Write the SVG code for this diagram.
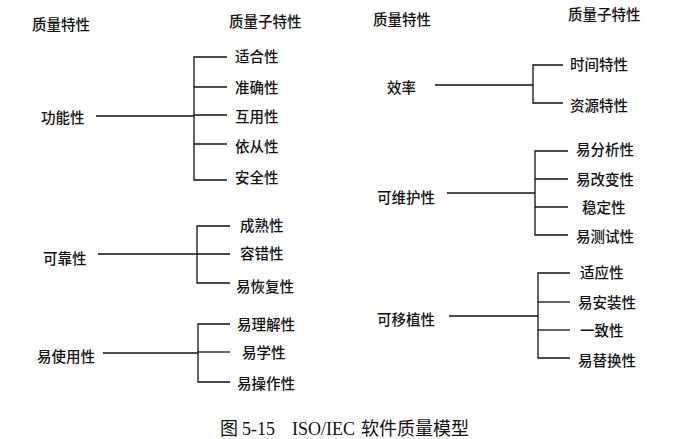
<svg xmlns="http://www.w3.org/2000/svg" width="696" height="439" viewBox="0 0 696 439">
<style>
text{font-family:"Noto Sans CJK SC","Liberation Sans",sans-serif;font-size:14.5px;font-weight:500;fill:#111}
.cap{font-family:"Liberation Serif","Noto Sans CJK SC",serif;font-size:18px;font-weight:400}
.c{font-family:"Noto Sans CJK SC",sans-serif}
line,polyline{stroke:#111;stroke-width:1.3;fill:none}
</style>
<rect width="696" height="439" fill="#fff"/>
<g id="headers">
<text x="32" y="30">质量特性</text>
<text x="229" y="27">质量子特性</text>
<text x="373" y="25">质量特性</text>
<text x="568" y="20">质量子特性</text>
</g>
<g id="connectors">
<line x1="96" y1="116" x2="194" y2="116"/>
<polyline points="227,57 194,57 194,180 227,180"/>
<line x1="194" y1="87" x2="227" y2="87"/>
<line x1="194" y1="115" x2="227" y2="115"/>
<line x1="194" y1="144" x2="227" y2="144"/>
<line x1="98" y1="254" x2="197" y2="254"/>
<polyline points="230,226 197,226 197,283 230,283"/>
<line x1="197" y1="254" x2="230" y2="254"/>
<line x1="103" y1="353" x2="198" y2="353"/>
<polyline points="230,324 198,324 198,382 230,382"/>
<line x1="198" y1="352" x2="230" y2="352"/>
<line x1="435" y1="85" x2="533" y2="85"/>
<polyline points="563,65 533,65 533,103 563,103"/>
<line x1="447" y1="193" x2="535" y2="193"/>
<polyline points="568,151 535,151 535,235 568,235"/>
<line x1="535" y1="179" x2="568" y2="179"/>
<line x1="535" y1="207" x2="568" y2="207"/>
<line x1="449" y1="316" x2="538" y2="316"/>
<polyline points="570,273 538,273 538,358 570,358"/>
<line x1="538" y1="302" x2="570" y2="302"/>
<line x1="538" y1="330" x2="570" y2="330"/>
</g>
<g id="functionality">
<text x="41" y="123">功能性</text>
<text x="235" y="62">适合性</text>
<text x="235" y="93">准确性</text>
<text x="235" y="122">互用性</text>
<text x="235" y="152">依从性</text>
<text x="235" y="183">安全性</text>
</g>
<g id="reliability">
<text x="43" y="264">可靠性</text>
<text x="240" y="231">成熟性</text>
<text x="240" y="259">容错性</text>
<text x="236" y="292">易恢复性</text>
</g>
<g id="usability">
<text x="37" y="362">易使用性</text>
<text x="237" y="330">易理解性</text>
<text x="242" y="358">易学性</text>
<text x="237" y="389">易操作性</text>
</g>
<g id="efficiency">
<text x="387" y="93">效率</text>
<text x="570" y="70">时间特性</text>
<text x="570" y="111">资源特性</text>
</g>
<g id="maintainability">
<text x="377" y="203">可维护性</text>
<text x="576" y="155">易分析性</text>
<text x="576" y="185">易改变性</text>
<text x="582" y="213">稳定性</text>
<text x="576" y="242">易测试性</text>
</g>
<g id="portability">
<text x="377" y="325">可移植性</text>
<text x="580" y="278">适应性</text>
<text x="578" y="308">易安装性</text>
<text x="580" y="336">一致性</text>
<text x="578" y="366">易替换性</text>
</g>
<g id="caption">
<text class="cap" y="435"><tspan class="c" x="220">图</tspan><tspan x="242">5-15</tspan><tspan x="292">ISO/IEC</tspan><tspan class="c" x="361">软件质量模型</tspan></text>
</g>
</svg>
